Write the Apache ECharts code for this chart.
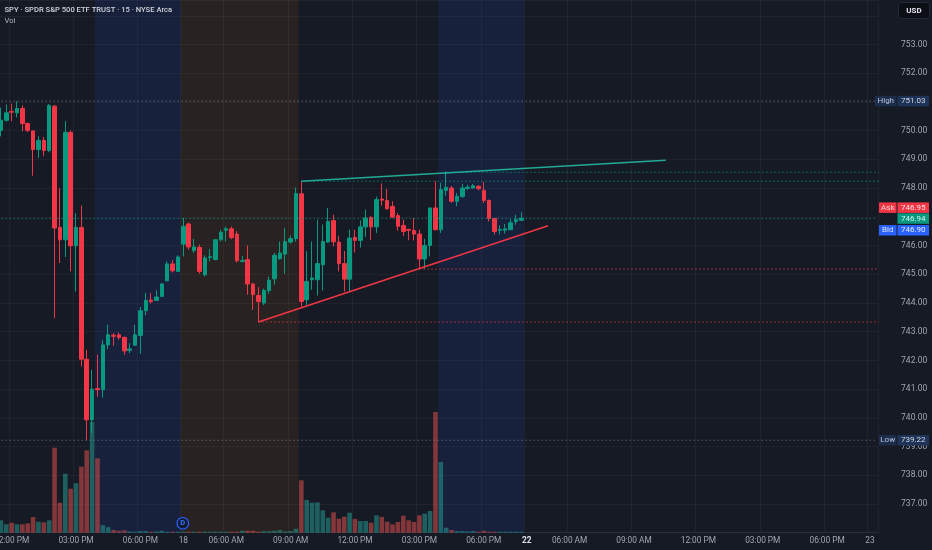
<!DOCTYPE html>
<html><head><meta charset="utf-8">
<script src="https://cdn.jsdelivr.net/npm/echarts@6/dist/echarts.min.js"></script>
<style>html,body{margin:0;padding:0;background:#161a25;}#c{width:932px;height:550px;}</style>
</head><body><div id="c"></div>
<script>
// ---- time slots (15-minute bars, extended hours) ----
const sessionDays  = ['17', '18', '22', '23'];
const sessionStart = ['11:30', '04:00', '04:00', '04:00'];
const sessionEnd   = ['19:45', '19:45', '19:45', '04:15'];

// ---- x-axis tick labels ----
const tickSlots  = [2, 14, 26, 34, 42, 54, 66, 78, 90, 98, 106, 118, 130, 142, 154, 162];
const tickLabels = ['12:00 PM', '03:00 PM', '06:00 PM', '18', '06:00 AM', '09:00 AM', '12:00 PM', '03:00 PM',
                    '06:00 PM', '22', '06:00 AM', '09:00 AM', '12:00 PM', '03:00 PM', '06:00 PM', '23'];

// ---- candles: [open, close, low, high] ----
const candles = [
  [750.01,750.36,749.80,750.80],[750.36,750.62,750.31,750.91],[750.67,750.64,750.33,750.94],[750.62,750.77,750.46,751.03],
  [750.77,750.25,749.98,750.88],[750.25,750.01,749.95,750.28],[749.99,749.34,748.43,750.00],[749.34,749.66,749.05,749.80],
  [749.66,749.31,749.11,749.78],[749.31,750.88,749.25,750.92],[750.85,746.61,743.47,750.90],[746.63,746.20,745.39,748.00],
  [746.20,749.94,745.60,750.33],[749.94,745.99,745.10,750.00],[745.99,746.63,744.40,747.13],[746.63,742.04,741.79,747.39],
  [742.04,739.93,739.22,742.37],[739.93,741.00,739.48,741.67],[741.02,740.98,740.74,742.20],[740.98,742.54,740.70,742.72],
  [742.54,742.89,742.39,743.24],[742.88,742.84,742.51,742.95],[742.89,742.80,742.72,742.97],[742.80,742.33,742.19,742.84],
  [742.35,742.40,742.25,742.60],[742.53,742.89,742.52,743.24],[742.87,743.73,742.23,743.86],[743.73,744.09,743.57,744.35],
  [744.10,744.05,743.98,744.35],[744.09,744.21,744.07,744.44],[744.23,744.66,744.20,744.70],[744.77,745.36,744.75,745.45],
  [745.36,745.12,745.06,745.50],[745.10,745.60,745.08,745.66],
  [746.05,746.67,745.62,746.96],[746.75,745.95,745.86,746.80],[745.83,745.95,745.74,746.23],[745.93,745.10,745.02,746.03],
  [744.98,745.57,744.92,745.66],[745.58,745.61,745.45,745.88],[745.51,746.20,745.49,746.23],[746.20,746.46,746.14,746.55],
  [746.53,746.58,746.14,746.66],[746.58,746.28,746.22,746.66],[746.40,745.47,745.41,746.50],[745.44,745.48,745.42,745.64],
  [745.51,744.66,744.29,746.00],[744.66,744.29,743.76,744.70],[744.26,744.05,743.34,744.55],[744.00,744.44,743.93,744.50],
  [744.43,744.79,744.32,744.92],[744.84,745.66,744.64,745.74],[745.54,745.74,745.50,746.14],[745.70,746.14,745.02,746.61],
  [746.12,746.24,746.06,746.35],[746.24,747.81,746.14,748.02],[747.80,744.05,743.88,748.24],[744.11,744.75,743.90,745.80],
  [744.81,744.87,744.46,746.14],[744.81,745.37,744.26,746.90],[745.33,746.14,744.44,746.73],[746.12,746.84,746.09,747.31],
  [746.87,746.13,745.97,747.07],[746.12,745.37,745.10,746.34],[745.37,744.83,744.40,745.81],[744.83,746.26,744.40,746.55],
  [746.28,746.18,745.76,746.55],[746.18,746.65,745.93,746.88],[746.65,746.96,746.30,747.25],[746.98,746.65,746.20,747.02],
  [746.65,747.60,746.44,747.71],[747.62,747.58,747.39,748.16],[747.57,747.28,747.25,747.97],[747.36,746.99,746.95,747.54],
  [747.04,746.67,746.52,747.13],[746.70,746.49,746.33,746.90],[746.56,746.53,746.18,746.58],[746.52,746.40,746.18,746.96],
  [746.40,745.53,745.18,746.55],[745.53,746.00,745.19,746.23],[746.00,747.31,745.62,747.31],[747.31,746.55,746.53,748.24],
  [746.55,747.95,746.44,748.18],[747.92,748.03,747.74,748.58],[748.00,747.54,747.49,748.07],[747.54,747.71,747.37,747.83],
  [747.71,748.00,747.66,748.15],[747.99,748.03,747.93,748.12],[748.00,748.08,747.98,748.15],[748.06,747.98,747.92,748.11],
  [747.92,747.57,747.48,748.21],[747.57,746.94,746.84,747.60],[746.94,746.49,746.38,746.96],[746.53,746.56,746.38,746.70],
  [746.53,746.58,746.41,746.75],[746.55,746.79,746.54,746.92],[746.84,746.90,746.72,747.07],[746.88,746.95,746.87,747.16]
];

// ---- volume (thousands of shares) ----
const volumes = [
  310,210,250,210,210,235,390,275,260,310,2125,750,1475,1100,1240,1650,2060,2775,1860,190,
  140,68,50,58,33,25,42,42,25,33,50,25,25,25,
  25,25,25,25,25,25,25,25,25,25,25,50,50,50,25,38,38,50,68,33,42,100,
  1310,818,750,760,560,375,510,350,400,500,343,293,293,250,435,393,275,210,268,425,310,268,435,475,543,3018,1768,
  125,68,42,42,33,42,25,50,25,25,25,25,25,25,25
];

// ---- annotations ----
const highPrice = 751.03, lowPrice = 739.22;
const lastPrice = 746.94, askPrice = 746.95, bidPrice = 746.90;
const upTrend   = [[56, 748.24], [123.9, 748.97]];   // [slot, price]
const lowTrend  = [[48, 743.34], [102.0, 746.69]];
const rays = [ {from: 83, price: 748.55, color: '#089981'}, {from: 56, price: 748.24, color: '#089981'},
               {from: 78, price: 745.18, color: '#f23645'}, {from: 48, price: 743.34, color: '#f23645'} ];
const preMarket  = [[33.5, 55.5]];
const postMarket = [[17.5, 33.5], [81.5, 97.5]];
const dividendSlot = 34;

// ---- build slots ----
function toMin(s){ const [h,m] = s.split(':').map(Number); return h*60+m; }
const slots = [];
sessionDays.forEach((d,i)=>{
  for (let t = toMin(sessionStart[i]); t <= toMin(sessionEnd[i]); t += 15) {
    slots.push(d + ' ' + String(Math.floor(t/60)).padStart(2,'0') + ':' + String(t%60).padStart(2,'0'));
  }
});
const N = slots.length;
const UP = '#089981', DOWN = '#f23645';
const FONT = 'Roboto';

const volData = volumes.map((v,i)=>({
  value: v,
  itemStyle: { color: candles[i][1] >= candles[i][0] ? 'rgba(38,166,154,0.5)' : 'rgba(239,83,80,0.5)' }
}));

const slotW = 5.365;
const gridLeft = 0.9 - slotW/2;
const gridRight = 932 - (gridLeft + slotW*N);
const pxPerDollar = 28.72;
const yMin = 736, gridBottomY = 532.73;
const yMax = yMin + gridBottomY / pxPerDollar;
const volAxisMax = 25 * gridBottomY;
const fullEnd = 162.9, rayEnd = 166.8;

const gridCol = 'rgba(255,255,255,0.045)';
const isTick = (idx) => tickSlots.indexOf(idx) >= 0;

const lineSeries = [];
lineSeries.push({
  type: 'line', xAxisIndex: 1, yAxisIndex: 0, data: [[0, 745]], symbol: 'none',
  lineStyle: { width: 0, opacity: 0 }, silent: true, z: 0,
  markArea: { silent: true, data:
    preMarket.map(r=>[{xAxis: r[0], itemStyle:{color:'rgba(255,152,0,0.08)'}},{xAxis: r[1]}]).concat(
    postMarket.map(r=>[{xAxis: r[0], itemStyle:{color:'rgba(41,98,255,0.1)'}},{xAxis: r[1]}])) }
});
function dotted(data, color, op){
  return { type:'line', xAxisIndex:1, yAxisIndex:0, data, symbol:'none', clip:false, silent:true, z:4,
    lineStyle:{ color, width:1, type:[1.3,2.7], opacity: op } };
}
lineSeries.push(dotted([[-0.6, highPrice],[fullEnd, highPrice]], '#7a7d87', 0.8));
lineSeries.push(dotted([[-0.6, lowPrice],[fullEnd, lowPrice]], '#7a7d87', 0.8));
lineSeries.push(dotted([[-0.6, lastPrice],[fullEnd, lastPrice]], '#089981', 0.8));
rays.forEach(r => lineSeries.push(dotted([[r.from, r.price],[rayEnd, r.price]], r.color, 0.9)));
lineSeries.push({ type:'line', xAxisIndex:1, yAxisIndex:0, data: upTrend, symbol:'none', clip:false, silent:true, z:5,
  lineStyle:{ color:'#22ab94', width:1.5 } });
lineSeries.push({ type:'line', xAxisIndex:1, yAxisIndex:0, data: lowTrend, symbol:'none', clip:false, silent:true, z:5,
  lineStyle:{ color:'#f23645', width:1.5 } });

const chart = echarts.init(document.getElementById('c'), null, {renderer:'canvas'});
chart.setOption({
  animation: false,
  backgroundColor: '#161a25',
  textStyle: { fontFamily: FONT },
  grid: { left: gridLeft, right: gridRight, top: 0, bottom: 550 - gridBottomY, containLabel: false, outerBoundsMode: 'none' },
  xAxis: [{
    type: 'category', data: slots, boundaryGap: true,
    axisLine: { show: true, lineStyle: { color: '#2a2e39' } },
    axisTick: { show: false },
    axisLabel: {
      interval: (idx) => isTick(idx), margin: 4, color: '#a3a6af', fontSize: 8.3, fontFamily: FONT,
      formatter: (v, idx) => { const k = tickSlots.indexOf(idx); if (k < 0) return ''; const t = tickLabels[k]; return t === '22' ? '{b|22}' : t; },
      rich: { b: { color: '#e0e3eb', fontWeight: 'bold', fontSize: 8.3, fontFamily: FONT } }
    },
    splitLine: { show: true, interval: (idx) => isTick(idx), lineStyle: { color: gridCol } }
  }, {
    type: 'value', min: -0.5, max: N - 0.5, show: false
  }],
  yAxis: [{
    type: 'value', position: 'right', min: yMin, max: yMax, interval: 1, scale: true,
    axisLine: { show: false }, axisTick: { show: false },
    axisLabel: { margin: 23, color: '#a3a6af', fontSize: 8.5, fontFamily: FONT,
      formatter: v => (v <= 736 || v >= 754 || v === 747) ? '' : v.toFixed(2) },
    splitLine: { show: true, lineStyle: { color: gridCol } }
  }, {
    type: 'value', min: 0, max: volAxisMax, show: false
  }],
  series: [
    ...lineSeries.slice(0,1),
    { type: 'bar', xAxisIndex: 0, yAxisIndex: 1, data: volData, barWidth: 4.6, z: 1, silent: true },
    { type: 'candlestick', xAxisIndex: 0, yAxisIndex: 0, data: candles, barWidth: 4, z: 3, silent: true,
      itemStyle: { color: UP, color0: DOWN, borderColor: UP, borderColor0: DOWN, borderWidth: 1 } },
    ...lineSeries.slice(1)
  ]
});

// ---- price tags & overlays (positioned through the chart's scales) ----
const py = p => chart.convertToPixel({ yAxisIndex: 0 }, p);
const sx = i => chart.convertToPixel({ xAxisIndex: 0 }, slots[i]);
const H = 10.5;
function tag(y, label, value, lbg, vbg, lcol, vcol, lw){
  const els = [];
  if (label) {
    els.push({ type:'rect', shape:{ x: 896.5 - lw, y: y - H/2, width: lw, height: H }, style:{ fill: lbg }, z: 50 });
    els.push({ type:'text', style:{ x: 896.5 - lw/2, y: y, text: label, fill: lcol, font: '8px ' + FONT, align:'center', verticalAlign:'middle' }, z: 51 });
  }
  els.push({ type:'rect', shape:{ x: 897.5, y: y - H/2, width: 31.5, height: H }, style:{ fill: vbg }, z: 50 });
  els.push({ type:'text', style:{ x: 913.25, y: y, text: value, fill: vcol, font: '8px ' + FONT, align:'center', verticalAlign:'middle' }, z: 51 });
  return els;
}
const g = [];
g.push(...tag(py(highPrice), 'High', highPrice.toFixed(2), '#1c2d4b', '#1d3357', '#b8c2d6', '#d1d4dc', 21.5));
g.push(...tag(py(lowPrice), 'Low', lowPrice.toFixed(2), '#1c2d4b', '#1d3357', '#b8c2d6', '#d1d4dc', 17.5));
g.push(...tag(py(askPrice) - 10.6, 'Ask', askPrice.toFixed(2), '#f23645', '#f23645', '#ffd6da', '#ffe4e6', 17.5));
g.push(...tag(py(lastPrice), null, lastPrice.toFixed(2), null, '#089981', null, '#d8f3ee', 0));
g.push(...tag(py(bidPrice) + 10.6, 'Bid', bidPrice.toFixed(2), '#2962ff', '#2962ff', '#dbe4ff', '#e6ecff', 17.5));
// currency box
g.push({ type:'rect', shape:{ x: 898.5, y: 2.5, width: 31, height: 16, r: 3 }, style:{ fill:'#0c0f16', stroke:'#262a35', lineWidth: 1 }, z: 50 });
g.push({ type:'text', style:{ x: 914, y: 10.8, text:'USD', fill:'#e0e3eb', font:'bold 8px ' + FONT, align:'center', verticalAlign:'middle' }, z: 51 });
// header texts
g.push({ type:'text', style:{ x: 4.5, y: 10.3, text:'SPY · SPDR S&P 500 ETF TRUST · 15 · NYSE Arca', fill:'#d1d4dc', font:'500 7.6px ' + FONT, verticalAlign:'middle' }, z: 51 });
g.push({ type:'text', style:{ x: 4.5, y: 21.3, text:'Vol', fill:'#b2b5be', font:'7.6px ' + FONT, verticalAlign:'middle' }, z: 51 });
// dividend marker
const dx = sx(dividendSlot) - 0.5;
g.push({ type:'circle', shape:{ cx: dx, cy: 523.3, r: 5.8 }, style:{ fill:'#121a33', stroke:'#2962ff', lineWidth: 1.2 }, z: 50 });
g.push({ type:'text', style:{ x: dx, y: 523.6, text:'D', fill:'#3d72ff', font:'bold 7.5px ' + FONT, align:'center', verticalAlign:'middle' }, z: 51 });
chart.setOption({ graphic: g });
</script>
</body></html>
